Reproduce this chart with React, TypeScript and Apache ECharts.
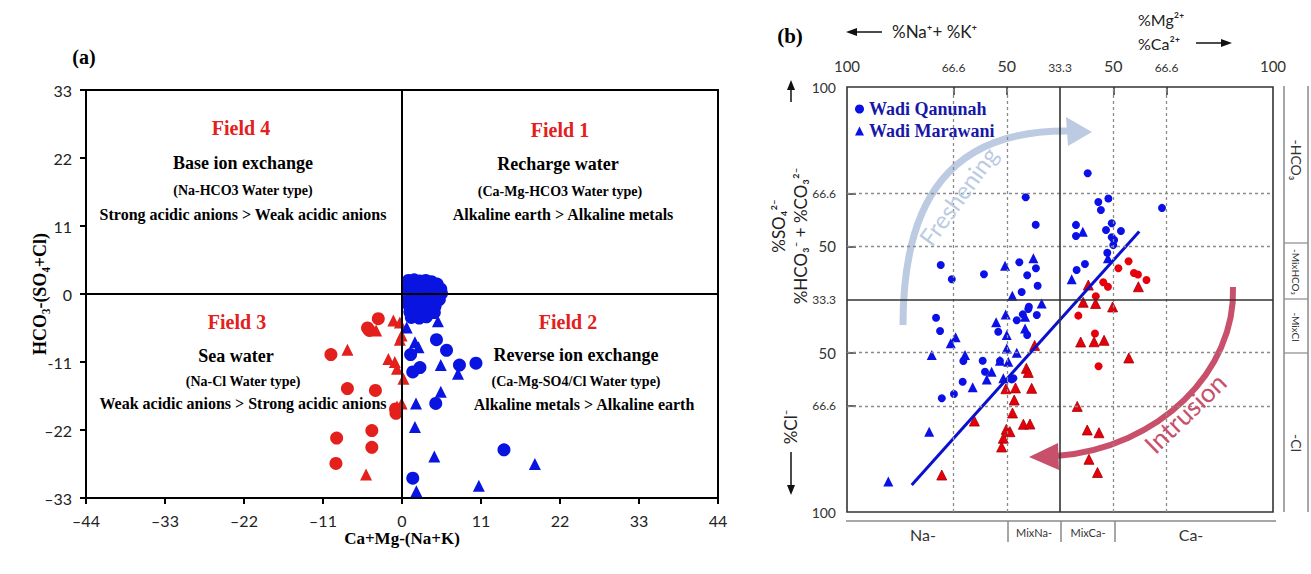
import React, { useEffect, useRef } from 'react';
import * as echarts from 'echarts';

// ---------------- Panel (a): Ca+Mg-(Na+K) vs HCO3-(SO4+Cl) ----------------
const aXTicks = [-44, -33, -22, -11, 0, 11, 22, 33, 44];
const aYTicks = [-33, -22, -11, 0, 11, 22, 33];

const aRedCircles = [
  [-3.3, -4.0], [-4.55, -5.9], [-4.8, -5.5], [-9.9, -9.8], [-7.6, -15.3], [-3.7, -15.6],
  [-0.84, -19.3], [-0.9, -18.6], [-9.1, -23.3], [-4.2, -22.1], [-4.2, -24.8], [-9.2, -27.4],
];
const aRedTriangles = [
  [-1.2, -4.3], [-0.3, -4.6], [-3.6, -5.9], [-0.05, -6.7], [-0.3, -7.4], [-7.6, -9.0],
  [-1.9, -10.5], [-1.0, -11.0], [-0.7, -12.1], [0.2, -13.7], [-0.05, -17.7], [-0.7, -18.2],
  [-5.0, -29.2],
];
const aBlueCircles = [
  [0.9, 2.2], [1.7, 2.3], [2.5, 2.1], [3.3, 2.2], [4.1, 2.0], [4.9, 1.6],
  [0.9, 1.2], [1.8, 1.4], [2.7, 1.0], [3.6, 1.3], [4.5, 0.9], [5.4, 0.8],
  [1.0, 0.2], [1.9, 0.4], [2.8, -0.1], [3.7, 0.3], [4.6, -0.2], [5.5, 0.1],
  [0.9, -0.9], [1.8, -0.7], [2.7, -1.1], [3.6, -0.8], [4.5, -1.2], [5.2, -0.9],
  [1.0, -1.9], [1.9, -2.1], [2.8, -1.8], [3.7, -2.2], [4.6, -2.0],
  [1.1, -2.9], [2.0, -3.2], [2.9, -2.8], [3.8, -3.1], [4.5, -3.0],
  [1.3, -3.8], [2.4, -3.9], [3.4, -3.7],
  [4.8, -7.4], [6.2, -9.1], [1.2, -9.8], [2.5, -11.9], [1.5, -12.6], [8.0, -11.5],
  [10.3, -11.2], [4.7, -17.7], [14.2, -25.2], [1.5, -29.8],
];
const aBlueTriangles = [
  [0.65, -5.4], [1.8, -7.8], [2.3, -8.6], [5.0, -4.4], [5.4, -11.5], [7.8, -12.9],
  [5.4, -15.8], [1.95, -17.7], [1.8, -21.5], [4.5, -26.3], [18.5, -27.5], [10.7, -31.0],
  [2.0, -31.9],
];

// ---------------- Panel (b): Chadha diagram ----------------
const bTickValues = [-100, -50, -25, 0, 25, 50, 100];
const bTickLabels = ['100', '66.6', '50', '33.3', '50', '66.6', '100'];
const bDashedLines = [-50, -25, 25, 50];

const bQanunahFresh = [
  [13.0, 59.4], [-16.1, 48.1], [18.0, 45.9], [22.7, 47.5], [19.2, 42.1], [47.9, 43.1],
  [-11.4, 35.2], [7.5, 35.1], [7.5, 29.9], [24.3, 35.9], [21.6, 32.7], [28.6, 32.2],
  [24.3, 29.3], [25.4, 28.0], [25.0, 25.6], [22.2, 22.0], [-19.1, 17.5], [-11.3, 14.7],
  [-15.4, 11.4], [-10.5, 6.5], [-18.0, 3.5], [11.7, 16.7], [7.8, 13.9], [-14.6, -3.4],
  [-56.0, 16.2], [-50.8, 9.5], [-35.7, 11.9], [-58.2, -8.6], [-56.3, -14.8], [-29.0, -15.2],
  [-20.3, -9.8], [-45.4, -28.9], [-36.3, -28.8], [-35.2, -34.0], [-45.7, -38.7], [-49.8, -44.5],
  [-55.5, -46.5], [-28.2, -28.9], [-21.9, -37.1], [-14.9, -4.5], [-10.9, -7.3], [-17.5, -7.0],
  [-15.4, -16.7], [-22.7, -37.6],
];
const bMarawaniFresh = [
  [10.7, 31.9], [-25.8, 15.9], [-12.5, 19.4], [22.5, 19.4], [5.5, 9.5], [-22.4, 1.8],
  [-8.6, -1.9], [-25.5, -7.0], [-30.0, -10.7], [-25.0, -16.7], [-16.4, -13.6], [-49.0, -17.8],
  [-51.3, -20.6], [-60.2, -26.1], [-44.6, -26.1], [-25.0, -23.0], [-20.3, -25.0], [-28.2, -28.8],
  [-24.3, -29.3], [-32.1, -34.0], [-34.4, -37.6], [-26.6, -37.1], [-41.0, -41.3], [-61.4, -62.2],
  [-80.6, -85.7], [-16.4, -8.1],
];
const bQanunahSaline = [
  [32.2, 18.0], [27.4, 14.7], [34.7, 12.5], [36.6, 11.8], [40.6, 9.2], [20.3, 8.1],
  [22.5, 6.0], [16.8, 1.5], [8.6, -7.6], [16.4, -16.0], [18.1, -31.4],
];
const bMarawaniSaline = [
  [13.3, 6.8], [36.8, 6.0], [10.9, -1.3], [16.7, -1.9], [24.7, -3.5], [9.7, -20.0],
  [16.0, -19.9], [20.7, -19.2], [32.3, -27.5], [8.1, -50.3], [12.8, -61.4], [18.3, -62.7],
  [13.6, -75.2], [17.6, -81.4], [-11.9, -21.6], [-15.8, -32.4], [-14.9, -34.3], [-25.4, -42.0],
  [-20.9, -41.6], [-13.3, -41.8], [-21.5, -47.3], [-22.3, -53.4], [-17.2, -58.7], [-14.1, -58.6],
  [-25.2, -61.1], [-26.6, -65.3], [-27.4, -69.4], [-40.2, -57.2], [-55.5, -82.6], [-23.5, -62.2],
];
const bFitX = [-69.6, 37.2];
const bFitY = [-87.3, 32.0];

const RED = '#e3201b';
const BLUE = '#0a14e0';
const SERIF = '"Liberation Serif", "Times New Roman", serif';
const SANS = 'Lato, "Open Sans", sans-serif';

const T = (text: string, x: number, y: number, o: any = {}) => ({
  type: 'text',
  x,
  y,
  rotation: o.rot || 0,
  z: 100,
  silent: true,
  style: {
    text,
    fill: o.fill || '#000',
    fontSize: o.size || 14,
    fontFamily: o.family || SERIF,
    fontWeight: o.weight || 'bold',
    align: o.align || 'center',
    verticalAlign: 'middle',
  },
});
const L = (x1: number, y1: number, x2: number, y2: number, stroke = '#888', w = 1.5) => ({
  type: 'line',
  silent: true,
  z: 50,
  shape: { x1, y1, x2, y2 },
  style: { stroke, lineWidth: w },
});
const P = (points: number[][], fill: string) => ({
  type: 'polygon',
  silent: true,
  z: 50,
  shape: { points },
  style: { fill },
});

const aFmtX = (v: number) => (v < 0 ? '\u2013' + Math.abs(v) : String(v));
const aFmtY = (v: number) => (v === -11 ? '-11' : v < 0 ? '\u2013' + Math.abs(v) : String(v));
const bLabelText = (v: number) => {
  const i = bTickValues.indexOf(v);
  return i < 0 ? '' : bTickLabels[i];
};
const bLabelRich = (v: number) => {
  const t = bLabelText(v);
  if (!t) return '';
  const k = t === '100' ? 'l' : t === '50' ? 'm' : 's';
  return `{${k}|${t}}`;
};

export default function App() {
  const ref = useRef<HTMLDivElement>(null);
  useEffect(() => {
    if (!ref.current) return;
    const chart = echarts.init(ref.current, null, { renderer: 'svg' });
    const scatter = (name: string, data: number[][], symbol: string, size: number, color: string, gi: number, border?: string) => ({
      name,
      type: 'scatter',
      xAxisIndex: gi,
      yAxisIndex: gi,
      data,
      symbol,
      symbolSize: size,
      z: 3,
      itemStyle: { color, opacity: 1, borderColor: border || color, borderWidth: border ? 0.8 : 0 },
    });
    const dashed = { color: '#8a8a8a', width: 1.3, type: [3, 3] };
    const solid = { color: '#333', width: 1.6, type: 'solid' };
    const option: any = {
      animation: false,
      backgroundColor: '#fff',
      legend: {
        data: ['Wadi Qanunah', 'Wadi Marawani'],
        orient: 'vertical',
        left: 855,
        top: 100,
        itemWidth: 9,
        itemHeight: 9,
        itemGap: 4,
        padding: 0,
        textStyle: { fontFamily: SERIF, fontWeight: 'bold', fontSize: 18, color: '#1717a8' },
      },
      grid: [
        { left: 86, top: 90, width: 632, height: 408, show: true, borderColor: '#000', borderWidth: 2, backgroundColor: 'transparent' },
        { left: 847, top: 87, width: 426, height: 425, show: true, borderColor: '#333', borderWidth: 1.6, backgroundColor: 'transparent' },
      ],
      xAxis: [
        {
          gridIndex: 0, type: 'value', min: aXTicks[0], max: aXTicks[aXTicks.length - 1], interval: 11,
          axisLine: { onZero: false, lineStyle: { color: '#000', width: 2 } },
          axisTick: { length: 6, lineStyle: { color: '#000', width: 2 } },
          axisLabel: { margin: 14, fontSize: 16, fontFamily: SANS, color: '#222', formatter: aFmtX },
          splitLine: { show: false },
        },
        {
          gridIndex: 1, type: 'value', position: 'top', min: -100, max: 100,
          axisLine: { show: false, onZero: false },
          axisTick: { show: true, inside: true, length: 8, customValues: bDashedLines, lineStyle: { color: '#333', width: 1.5 } },
          axisLabel: {
            customValues: bTickValues, margin: 14, formatter: bLabelRich,
            rich: {
              l: { fontSize: 15, fontFamily: SANS, color: '#333' },
              m: { fontSize: 16, fontFamily: SANS, color: '#333' },
              s: { fontSize: 12, fontFamily: SANS, color: '#333' },
            },
          },
          splitLine: { show: false },
        },
      ],
      yAxis: [
        {
          gridIndex: 0, type: 'value', min: aYTicks[0], max: aYTicks[aYTicks.length - 1], interval: 11,
          axisLine: { onZero: false, lineStyle: { color: '#000', width: 2 } },
          axisTick: { length: 6, lineStyle: { color: '#000', width: 2 } },
          axisLabel: { margin: 14, fontSize: 16, fontFamily: SANS, color: '#222', formatter: aFmtY },
          splitLine: { show: false },
        },
        {
          gridIndex: 1, type: 'value', min: -100, max: 100,
          axisLine: { show: false, onZero: false },
          axisTick: { show: true, inside: true, length: 9, customValues: bDashedLines, lineStyle: { color: '#333', width: 1.5 } },
          axisLabel: {
            customValues: bTickValues, margin: 11, formatter: bLabelRich,
            rich: {
              l: { fontSize: 14, fontFamily: SANS, color: '#333' },
              m: { fontSize: 15, fontFamily: SANS, color: '#333' },
              s: { fontSize: 12, fontFamily: SANS, color: '#333' },
            },
          },
          splitLine: { show: false },
        },
      ],
      series: [
        {
          type: 'scatter', xAxisIndex: 0, yAxisIndex: 0, data: [], z: 1, silent: true,
          markLine: {
            silent: true, symbol: 'none', label: { show: false },
            lineStyle: { color: '#000', width: 2, type: 'solid' },
            data: [{ xAxis: 0 }, { yAxis: 0 }],
          },
        },
        {
          type: 'scatter', xAxisIndex: 1, yAxisIndex: 1, data: [], z: 1, silent: true,
          markLine: {
            silent: true, symbol: 'none', label: { show: false },
            data: [
              ...bDashedLines.map((v) => ({ xAxis: v, lineStyle: dashed })),
              ...bDashedLines.map((v) => ({ yAxis: v, lineStyle: dashed })),
              { xAxis: 0, lineStyle: solid },
              { yAxis: 0, lineStyle: solid },
            ],
          },
        },
        scatter('a-red-circle', aRedCircles, 'circle', 13, RED, 0),
        scatter('a-red-triangle', aRedTriangles, 'triangle', 12, RED, 0),
        scatter('a-blue-circle', aBlueCircles, 'circle', 13, BLUE, 0),
        scatter('a-blue-triangle', aBlueTriangles, 'triangle', 12, BLUE, 0),
        scatter('Wadi Qanunah', bQanunahFresh, 'circle', 8, '#0a10e6', 1),
        scatter('Wadi Marawani', bMarawaniFresh, 'triangle', 10, '#0a10e6', 1),
        scatter('Qanunah saline', bQanunahSaline, 'circle', 8, '#e5000c', 1),
        scatter('Marawani saline', bMarawaniSaline, 'triangle', 10, '#e5000c', 1, '#a30000'),
        {
          name: 'fit', type: 'line', xAxisIndex: 1, yAxisIndex: 1, symbol: 'none', z: 4,
          data: bFitX.map((x, i) => [x, bFitY[i]]),
          lineStyle: { color: '#0a10d0', width: 3 },
        },
      ],
      graphic: [
        // panel (a) texts
        T('(a)', 84, 57, { size: 20 }),
        T('Field 4', 241, 128, { size: 20, fill: RED }),
        T('Base ion exchange', 243, 163, { size: 18 }),
        T('(Na-HCO3 Water type)', 243, 190, { size: 14 }),
        T('Strong acidic anions > Weak acidic anions', 243, 214, { size: 16 }),
        T('Field 1', 560, 130, { size: 20, fill: RED }),
        T('Recharge water', 558, 164, { size: 18 }),
        T('(Ca-Mg-HCO3 Water type)', 560, 191, { size: 14 }),
        T('Alkaline earth > Alkaline metals', 563, 214, { size: 16 }),
        T('Field 3', 237, 322, { size: 20, fill: RED }),
        T('Sea water', 236, 356, { size: 18 }),
        T('(Na-Cl Water type)', 243, 381, { size: 14 }),
        T('Weak acidic anions > Strong acidic anions', 243, 403, { size: 16 }),
        T('Field 2', 568, 322, { size: 20, fill: RED }),
        T('Reverse ion exchange', 576, 355, { size: 18 }),
        T('(Ca-Mg-SO4/Cl Water type)', 576, 381, { size: 14 }),
        T('Alkaline metals > Alkaline earth', 584, 404, { size: 16 }),
        T('HCO\u2083-(SO\u2084+Cl)', 40, 294, { size: 18, rot: Math.PI / 2 }),
        T('Ca+Mg-(Na+K)', 402, 538, { size: 17 }),

        // panel (b) headings
        T('(b)', 790, 36, { size: 21 }),
        L(852, 32, 882, 32, '#111', 1.5),
        P([[846, 32], [857, 28], [857, 36]], '#111'),
        T('%Na\u207A+ %K\u207A', 892, 31, { size: 17, family: SANS, weight: 'normal', align: 'left', fill: '#222' }),
        T('%Mg\u00B2\u207A', 1138, 19, { size: 16, family: SANS, weight: 'normal', align: 'left', fill: '#222' }),
        T('%Ca\u00B2\u207A', 1138, 43, { size: 16, family: SANS, weight: 'normal', align: 'left', fill: '#222' }),
        L(1196, 43, 1226, 43, '#111', 1.5),
        P([[1232, 43], [1221, 39], [1221, 47]], '#111'),

        // left side labels of (b)
        L(791, 102, 791, 86, '#111', 1.5),
        P([[791, 80], [787, 90], [795, 90]], '#111'),
        T('%SO\u2084\u00B2\u207B', 778, 226, { size: 17, family: SANS, weight: 'normal', rot: Math.PI / 2, fill: '#222' }),
        T('%HCO\u2083\u207B + %CO\u2083\u00B2\u207B', 800, 236, { size: 17, family: SANS, weight: 'normal', rot: Math.PI / 2, fill: '#222' }),
        T('%Cl\u207B', 790, 427, { size: 17, family: SANS, weight: 'normal', rot: Math.PI / 2, fill: '#222' }),
        L(791, 452, 791, 488, '#111', 1.5),
        P([[791, 495], [787, 485], [795, 485]], '#111'),

        // bottom strip of (b)
        L(846, 521, 1276, 521, '#8a8a8a', 1.5),
        L(1008, 521, 1008, 542, '#8a8a8a', 1.5),
        L(1061, 521, 1061, 542, '#8a8a8a', 1.5),
        L(1115, 521, 1115, 542, '#8a8a8a', 1.5),
        T('Na-', 923, 534, { size: 16, family: SANS, weight: 'normal', fill: '#333' }),
        T('MixNa-', 1034, 532, { size: 11, family: SANS, weight: 'normal', fill: '#333' }),
        T('MixCa-', 1088, 532, { size: 11, family: SANS, weight: 'normal', fill: '#333' }),
        T('Ca-', 1191, 534, { size: 16, family: SANS, weight: 'normal', fill: '#333' }),

        // right strip of (b)
        L(1284, 86, 1284, 512, '#8a8a8a', 1.5),
        L(1308, 86, 1308, 512, '#8a8a8a', 1.5),
        L(1284, 243, 1308, 243, '#8a8a8a', 1.2),
        L(1284, 299, 1308, 299, '#8a8a8a', 1.2),
        L(1284, 353, 1308, 353, '#8a8a8a', 1.2),
        T('-HCO\u2083', 1296, 160, { size: 14, family: SANS, weight: 'normal', rot: -Math.PI / 2, fill: '#333' }),
        T('-MixHCO\u2083', 1296, 272, { size: 10, family: SANS, weight: 'normal', rot: -Math.PI / 2, fill: '#333' }),
        T('-MixCl', 1296, 327, { size: 10, family: SANS, weight: 'normal', rot: -Math.PI / 2, fill: '#333' }),
        T('-Cl', 1296, 443, { size: 14, family: SANS, weight: 'normal', rot: -Math.PI / 2, fill: '#333' }),

        // Freshening arrow
        {
          type: 'bezierCurve', silent: true, z: 0,
          shape: { x1: 903, y1: 325, cpx1: 903, cpy1: 200, cpx2: 950, cpy2: 130, x2: 1068, y2: 131 },
          style: { stroke: '#bccbe2', lineWidth: 7, fill: 'none' },
        },
        { type: 'polygon', silent: true, z: 0, shape: { points: [[1066, 117], [1092, 132], [1068, 146]] }, style: { fill: '#bccbe2' } },
        T('Freshening', 958, 196, { size: 24, family: SANS, weight: 'normal', rot: (54 * Math.PI) / 180, fill: '#bccbe2' }),

        // Intrusion arrow
        {
          type: 'bezierCurve', silent: true, z: 0,
          shape: { x1: 1233, y1: 287, cpx1: 1236, cpy1: 370, cpx2: 1160, cpy2: 448, x2: 1056, y2: 456 },
          style: { stroke: '#c9506b', lineWidth: 6, fill: 'none' },
        },
        { type: 'polygon', silent: true, z: 0, shape: { points: [[1058, 443], [1029, 457], [1059, 470]] }, style: { fill: '#c9506b' } },
        T('Intrusion', 1185, 413, { size: 26, family: SANS, weight: 'normal', rot: (44 * Math.PI) / 180, fill: '#c9506b' }),
      ],
    };
    chart.setOption(option);
    return () => chart.dispose();
  }, []);
  return <div ref={ref} style={{ position: 'absolute', left: 0, top: 0, width: 1311, height: 574 }} />;
}
